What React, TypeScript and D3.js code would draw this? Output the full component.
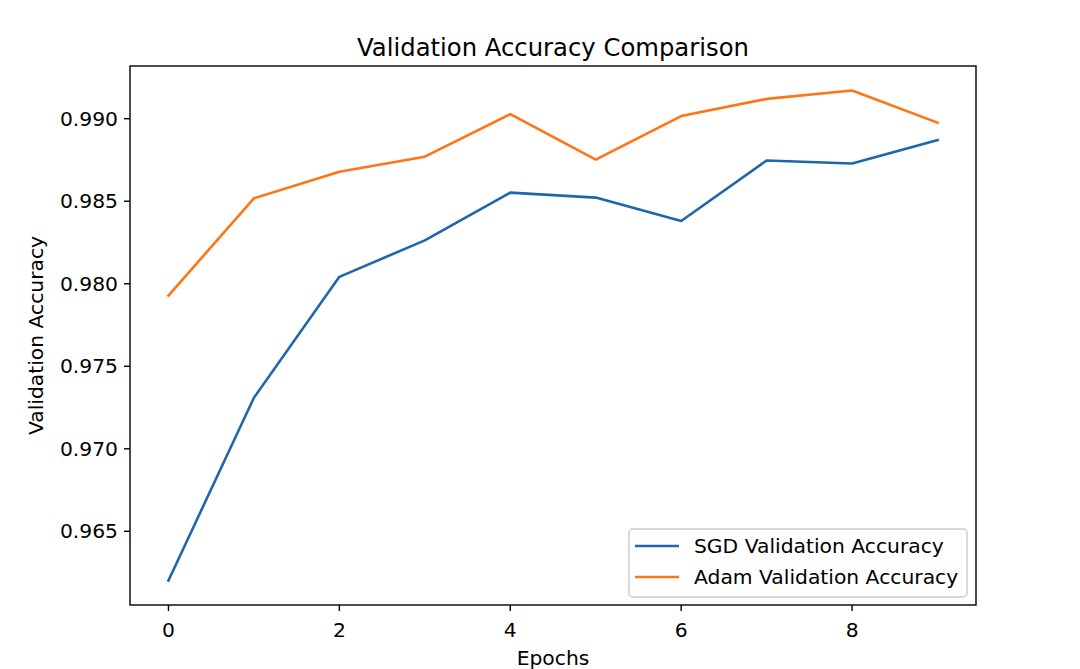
import React from "react";
import * as d3 from "d3";

const epochs = [0, 1, 2, 3, 4, 5, 6, 7, 8, 9];
const sgdAcc = [0.96202, 0.97309, 0.98042, 0.98263, 0.98552, 0.98522, 0.9838, 0.98747, 0.98729, 0.9887];
const adamAcc = [0.97928, 0.98518, 0.98679, 0.9877, 0.99028, 0.98752, 0.99016, 0.9912, 0.99171, 0.98976];
const xTicks = [0, 2, 4, 6, 8];
const yTicks = [0.965, 0.97, 0.975, 0.98, 0.985, 0.99];

const W = 1080;
const H = 669;
const margin = { top: 66, right: 104, bottom: 64, left: 130 };
const FONT = "'DejaVu Sans', sans-serif";
const LABEL_SIZE = 20.3;

export default function App() {
  const innerW = W - margin.left - margin.right;
  const innerH = H - margin.top - margin.bottom;

  const all = [...sgdAcc, ...adamAcc];
  const yMin = d3.min(all)!;
  const yMax = d3.max(all)!;
  const yPad = (yMax - yMin) * 0.05;

  const x = d3.scaleLinear().domain([-0.45, 9.45]).range([0, innerW]);
  const y = d3.scaleLinear().domain([yMin - yPad, yMax + yPad]).range([innerH, 0]);

  const line = d3
    .line<number>()
    .x((_, i) => x(epochs[i]))
    .y((d) => y(d));

  const series = [
    { name: "SGD Validation Accuracy", values: sgdAcc, color: "#2066aa" },
    { name: "Adam Validation Accuracy", values: adamAcc, color: "#ff7414" },
  ];

  return (
    <div style={{ position: "fixed", left: 0, top: 0 }}>
      <svg width={W} height={H} style={{ display: "block", background: "#fff" }} fontFamily={FONT}>
        <text x={margin.left + innerW / 2} y={56} textAnchor="middle" fontSize={24.3} fill="#000">
          Validation Accuracy Comparison
        </text>
        <g transform={`translate(${margin.left},${margin.top})`}>
          {series.map((s) => (
            <path
              key={s.name}
              d={line(s.values) ?? ""}
              fill="none"
              stroke={s.color}
              strokeWidth={2.6}
              strokeLinejoin="round"
              strokeLinecap="square"
            />
          ))}
          <rect x={0} y={0} width={innerW} height={innerH} fill="none" stroke="#000" strokeWidth={1.4} />
          {xTicks.map((t) => (
            <g key={t} transform={`translate(${x(t)},${innerH})`}>
              <line y2={6} stroke="#000" strokeWidth={1.4} />
              <text y={32} textAnchor="middle" fontSize={LABEL_SIZE} fill="#000">
                {t}
              </text>
            </g>
          ))}
          {yTicks.map((t) => (
            <g key={t} transform={`translate(0,${y(t)})`}>
              <line x2={-6} stroke="#000" strokeWidth={1.4} />
              <text x={-12} dy="0.35em" textAnchor="end" fontSize={LABEL_SIZE} fill="#000">
                {d3.format(".3f")(t)}
              </text>
            </g>
          ))}
          <g transform={`translate(${629 - margin.left},${529 - margin.top})`}>
            <rect
              width={338}
              height={68}
              rx={4}
              fill="#fff"
              fillOpacity={0.8}
              stroke="#cccccc"
              strokeWidth={1.4}
            />
            {series.map((s, i) => (
              <g key={s.name} transform={`translate(0,${17 + i * 31})`}>
                <line x1={6} x2={50} stroke={s.color} strokeWidth={2.6} />
                <text x={65} dy="0.35em" fontSize={LABEL_SIZE} fill="#000">
                  {s.name}
                </text>
              </g>
            ))}
          </g>
        </g>
        <text x={margin.left + innerW / 2} y={665} textAnchor="middle" fontSize={LABEL_SIZE} fill="#000">
          Epochs
        </text>
        <text
          transform={`translate(43,${margin.top + innerH / 2}) rotate(-90)`}
          textAnchor="middle"
          fontSize={LABEL_SIZE}
          fill="#000"
        >
          Validation Accuracy
        </text>
      </svg>
    </div>
  );
}
